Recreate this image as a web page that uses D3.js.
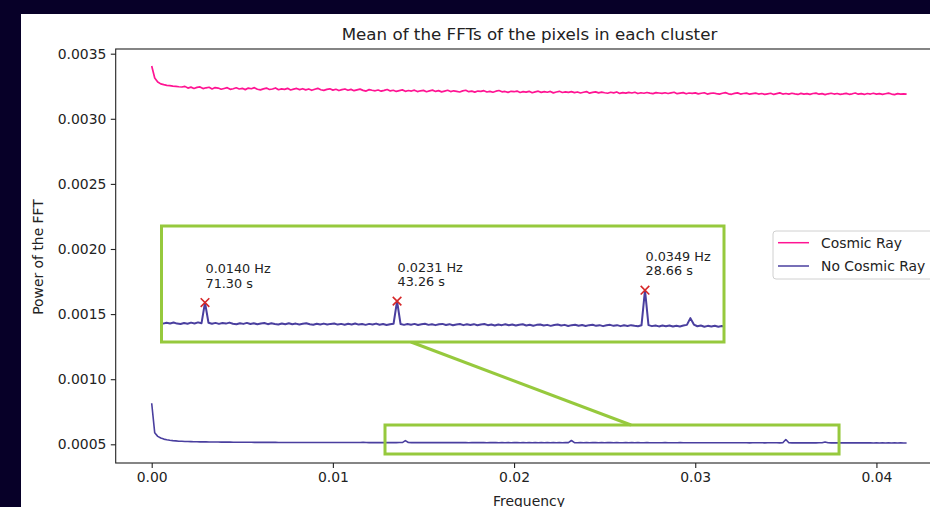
<!DOCTYPE html>
<html><head><meta charset="utf-8">
<script src="https://cdn.jsdelivr.net/npm/d3@7"></script>
<style>body{margin:0;background:#070028;} svg{display:block;}</style>
</head><body><svg id="c" width="930" height="507"></svg>
<script>
// ---- data ----
const freqStep = 1 / 6000; // frequency bin spacing (Hz), bin k => k * freqStep
const seriesNames = ["Cosmic Ray", "No Cosmic Ray"];
const cosmicRay = [
0.003406,0.003313,0.003283,0.003268,0.003262,0.003257,0.003255,0.003251,0.003249,0.003246,
0.003244,0.003249,0.003236,0.003243,0.003233,0.003241,0.003245,0.003232,0.003238,0.003242,
0.003229,0.003240,0.003236,0.003227,0.003233,0.003239,0.003226,0.003231,0.003238,0.003229,
0.003234,0.003224,0.003236,0.003231,0.003239,0.003227,0.003222,0.003230,0.003236,0.003225,
0.003229,0.003237,0.003223,0.003230,0.003226,0.003234,0.003221,0.003228,0.003233,0.003224,
0.003231,0.003222,0.003229,0.003219,0.003227,0.003234,0.003223,0.003218,0.003226,0.003230,
0.003220,0.003227,0.003217,0.003224,0.003229,0.003219,0.003226,0.003216,0.003222,0.003228,
0.003218,0.003213,0.003224,0.003219,0.003215,0.003221,0.003212,0.003218,0.003225,0.003214,
0.003219,0.003210,0.003216,0.003222,0.003211,0.003217,0.003213,0.003220,0.003209,0.003215,
0.003218,0.003208,0.003214,0.003220,0.003210,0.003216,0.003207,0.003213,0.003219,0.003209,
0.003215,0.003211,0.003206,0.003214,0.003219,0.003208,0.003212,0.003205,0.003213,0.003210,
0.003216,0.003206,0.003211,0.003204,0.003212,0.003217,0.003207,0.003210,0.003203,0.003211,
0.003208,0.003213,0.003202,0.003209,0.003205,0.003211,0.003200,0.003207,0.003212,0.003203,
0.003209,0.003204,0.003210,0.003199,0.003206,0.003211,0.003202,0.003207,0.003203,0.003209,
0.003201,0.003206,0.003198,0.003204,0.003209,0.003197,0.003203,0.003207,0.003199,0.003205,
0.003200,0.003196,0.003204,0.003199,0.003206,0.003195,0.003201,0.003197,0.003203,0.003198,
0.003204,0.003194,0.003200,0.003196,0.003202,0.003197,0.003193,0.003201,0.003198,0.003195,
0.003200,0.003194,0.003199,0.003204,0.003193,0.003197,0.003201,0.003192,0.003198,0.003195,
0.003199,0.003191,0.003196,0.003200,0.003190,0.003195,0.003198,0.003193,0.003189,0.003196,
0.003201,0.003192,0.003188,0.003195,0.003199,0.003190,0.003194,0.003197,0.003189,0.003193,
0.003197,0.003190,0.003194,0.003188,0.003192,0.003196,0.003187,0.003193,0.003199,0.003190,
0.003194,0.003189,0.003196,0.003191,0.003187,0.003195,0.003190,0.003193,0.003188,0.003194,
0.003197,0.003189,0.003193,0.003186,0.003192,0.003196,0.003190,0.003194,0.003188,0.003191,
0.003195,0.003188,0.003192,0.003198,0.003189,0.003193,0.003187,0.003194,0.003190,0.003196,
0.003189,0.003193,0.003187,0.003192,0.003197,0.003190,0.003186,0.003193,0.003189,0.003192,
0.003190];
const noCosmicRay = [
0.000815,0.000588,0.000561,0.000548,0.000540,0.000535,0.000531,0.000528,0.000526,0.000524,
0.000523,0.000522,0.000521,0.0005205,0.000520,0.0005195,0.000519,0.0005187,0.0005183,0.000518,
0.0005178,0.0005175,0.0005172,0.000517,0.0005168,0.0005166,0.0005164,0.0005162,0.000516,0.0005158,
0.0005157,0.0005155,0.0005154,0.0005152,0.0005151,0.000515,0.0005149,0.0005148,0.0005147,0.0005146,
0.0005146,0.0005145,0.0005144,0.0005144,0.0005143,0.0005142,0.0005142,0.0005141,0.0005141,0.000514,
0.000514,0.0005139,0.0005141,0.0005138,0.000514,0.0005139,0.0005137,0.000514,0.0005138,0.0005139,
0.0005137,0.0005139,0.0005136,0.0005138,0.0005137,0.0005135,0.0005138,0.0005136,0.0005139,0.0005136,
0.0005148,0.0005135,0.0005131,0.0005137,0.0005132,0.0005139,0.0005131,0.0005128,0.0005135,0.000513,
0.0005138,0.0005132,0.000514,0.0005133,0.0005281,0.0005137,0.000513,0.0005136,0.0005129,0.0005135,
0.0005131,0.0005138,0.000513,0.0005127,0.0005134,0.0005129,0.0005136,0.0005128,0.0005133,0.0005126,
0.0005132,0.0005135,0.0005127,0.0005133,0.0005128,0.0005125,0.0005132,0.0005127,0.0005134,0.0005126,
0.0005131,0.0005125,0.000513,0.0005134,0.0005126,0.0005123,0.000513,0.0005125,0.0005131,0.0005124,
0.0005129,0.0005132,0.0005124,0.0005129,0.0005123,0.000513,0.0005125,0.0005132,0.0005124,0.0005128,
0.0005122,0.0005129,0.0005124,0.0005131,0.0005123,0.0005128,0.0005121,0.0005127,0.000513,0.0005291,
0.0005128,0.0005122,0.0005128,0.0005123,0.0005129,0.0005121,0.0005126,0.000513,0.0005122,0.0005127,
0.000512,0.0005126,0.0005129,0.0005121,0.0005127,0.0005119,0.0005125,0.0005128,0.000512,0.0005126,
0.0005121,0.0005127,0.0005119,0.0005125,0.0005128,0.000512,0.0005124,0.0005118,0.0005125,0.000512,
0.0005126,0.0005119,0.0005124,0.0005117,0.0005123,0.0005126,0.0005118,0.0005123,0.0005116,0.0005122,
0.0005125,0.0005117,0.0005122,0.0005115,0.0005121,0.0005124,0.0005117,0.0005122,0.0005114,0.000512,
0.0005123,0.0005116,0.0005121,0.0005114,0.000512,0.0005123,0.0005115,0.000512,0.0005113,0.0005119,
0.0005122,0.0005115,0.000512,0.0005113,0.0005119,0.0005114,0.000512,0.0005115,0.0005112,0.0005119,
0.0005369,0.000512,0.0005113,0.0005118,0.0005111,0.0005117,0.0005112,0.0005118,0.000511,0.0005116,
0.0005111,0.0005117,0.0005122,0.000517,0.0005124,0.0005112,0.0005117,0.0005109,0.0005115,0.000511,
0.0005116,0.0005109,0.0005114,0.0005108,0.0005113,0.0005107,0.0005112,0.0005106,0.0005111,0.0005105,
0.000511,0.0005104,0.0005109,0.0005103,0.0005108,0.0005102,0.0005107,0.0005101,0.0005106,0.00051,
0.0005104];
const peakIndex = [84, 139, 210];
const peakHz = ["0.0140 Hz", "0.0231 Hz", "0.0349 Hz"];
const peakPeriod = ["71.30 s", "43.26 s", "28.66 s"];
const xTicks = [0.00, 0.01, 0.02, 0.03, 0.04];
const yTicks = [0.0005, 0.0010, 0.0015, 0.0020, 0.0025, 0.0030, 0.0035];
const zoomFreqRange = [0.012877, 0.037937];     // region marked on main axes
const zoomPowerRange = [0.0004255, 0.0006482];

// ---- layout ----
const FONT = "DejaVu Sans, sans-serif";
const colors = ["#ff1493", "#4a3f9f"];
const green = "#96c93d";
const svg = d3.select("#c");
svg.append("rect").attr("x", 21).attr("y", 14).attr("width", 909).attr("height", 493).attr("fill", "#fff");

const x = d3.scaleLinear().domain([-0.001987, 0.043658]).range([115.7, 942.7]);
const y = d3.scaleLinear().domain([0.0003564, 0.003536]).range([463, 49]);
const xi = d3.scaleLinear().domain([0.011924, 0.038771]).range([161.5, 724]);
const yi = d3.scaleLinear().domain([0.0005, 0.0005826]).range([342, 226]);

const series = [cosmicRay, noCosmicRay].map(arr => arr.map((v, k) => ({f: k * freqStep, v})));

svg.append("defs").append("clipPath").attr("id", "clipMain")
  .append("rect").attr("x", 115.7).attr("y", 49).attr("width", 827).attr("height", 414);
svg.select("defs").append("clipPath").attr("id", "clipInset")
  .append("rect").attr("x", 161.5).attr("y", 226).attr("width", 562.5).attr("height", 116);

const main = svg.append("g").attr("clip-path", "url(#clipMain)");
const line = d3.line().x(d => x(d.f)).y(d => y(d.v));
series.forEach((s, i) => {
  main.append("path").datum(s).attr("d", line).attr("fill", "none")
    .attr("stroke", colors[i]).attr("stroke-width", i === 0 ? 1.7 : 1.6).attr("stroke-linejoin", "round");
});

// axes
const axisStyle = g => {
  g.select(".domain").remove();
  g.selectAll(".tick line").attr("stroke", "#222").attr("stroke-width", 1.1);
  g.selectAll(".tick text").attr("fill", "#222").attr("font-family", FONT).attr("font-size", "13.9px");
};
svg.append("g").attr("transform", "translate(115.7,0)")
  .call(d3.axisLeft(y).tickValues(yTicks).tickFormat(d3.format(".4f")).tickSize(4.9).tickPadding(4.5))
  .call(axisStyle);
svg.append("g").attr("transform", "translate(0,463)")
  .call(d3.axisBottom(x).tickValues(xTicks).tickFormat(d3.format(".2f")).tickSize(4.9).tickPadding(4.5))
  .call(axisStyle);
svg.append("rect").attr("x", 115.7).attr("y", 49).attr("width", 827).attr("height", 414)
  .attr("fill", "none").attr("stroke", "#222").attr("stroke-width", 1.1);

// titles
svg.append("text").attr("x", 529.5).attr("y", 40).attr("text-anchor", "middle")
  .attr("font-family", FONT).attr("font-size", "16.7px").attr("fill", "#222")
  .text("Mean of the FFTs of the pixels in each cluster");
svg.append("text").attr("x", 529).attr("y", 506).attr("text-anchor", "middle")
  .attr("font-family", FONT).attr("font-size", "13.9px").attr("fill", "#222").text("Frequency");
svg.append("text").attr("transform", "translate(43.3,257) rotate(-90)").attr("text-anchor", "middle")
  .attr("font-family", FONT).attr("font-size", "13.9px").attr("fill", "#222").text("Power of the FFT");

// zoom box on main axes
svg.append("rect")
  .attr("x", x(zoomFreqRange[0])).attr("y", y(zoomPowerRange[1]))
  .attr("width", x(zoomFreqRange[1]) - x(zoomFreqRange[0]))
  .attr("height", y(zoomPowerRange[0]) - y(zoomPowerRange[1]))
  .attr("fill", "none").attr("stroke", green).attr("stroke-width", 3);
// connector
svg.append("line")
  .attr("x1", xi(0.023832)).attr("y1", yi.range()[0])
  .attr("x2", x(0.026456)).attr("y2", y(zoomPowerRange[1]))
  .attr("stroke", green).attr("stroke-width", 3);

// inset
const inset = svg.append("g");
inset.append("rect").attr("x", 161.5).attr("y", 226).attr("width", 562.5).attr("height", 116).attr("fill", "#fff");
const lineI = d3.line().x(d => xi(d.f)).y(d => yi(d.v));
inset.append("g").attr("clip-path", "url(#clipInset)").append("path").datum(series[1]).attr("d", lineI)
  .attr("fill", "none").attr("stroke", colors[1]).attr("stroke-width", 2).attr("stroke-linejoin", "round");
peakIndex.forEach((k, i) => {
  const px = xi(k * freqStep), py = yi(noCosmicRay[k]);
  const s = 4.3;
  inset.append("path").attr("d", `M${px - s},${py - s}L${px + s},${py + s}M${px - s},${py + s}L${px + s},${py - s}`)
    .attr("stroke", "#d62728").attr("stroke-width", 1.6);
  const t = inset.append("text").attr("font-family", FONT).attr("font-size", "12.8px").attr("fill", "#222");
  t.append("tspan").attr("x", px + 0.5).attr("y", py - 29.4).text(peakHz[i]);
  t.append("tspan").attr("x", px + 0.5).attr("y", py - 14.8).text(peakPeriod[i]);
});
inset.append("rect").attr("x", 161.5).attr("y", 226).attr("width", 562.5).attr("height", 116)
  .attr("fill", "none").attr("stroke", green).attr("stroke-width", 3);

// legend
const lg = svg.append("g");
lg.append("rect").attr("x", 773).attr("y", 231).attr("width", 200).attr("height", 48).attr("rx", 3)
  .attr("fill", "#fff").attr("stroke", "#d0d0d0").attr("stroke-width", 1);
seriesNames.forEach((n, i) => {
  const ly = 242.7 + i * 23.3;
  lg.append("line").attr("x1", 778).attr("x2", 809).attr("y1", ly).attr("y2", ly)
    .attr("stroke", colors[i]).attr("stroke-width", 1.5);
  lg.append("text").attr("x", 821).attr("y", ly + 5).attr("font-family", FONT).attr("font-size", "13.9px")
    .attr("fill", "#222").text(n);
});
</script>
</body></html>
